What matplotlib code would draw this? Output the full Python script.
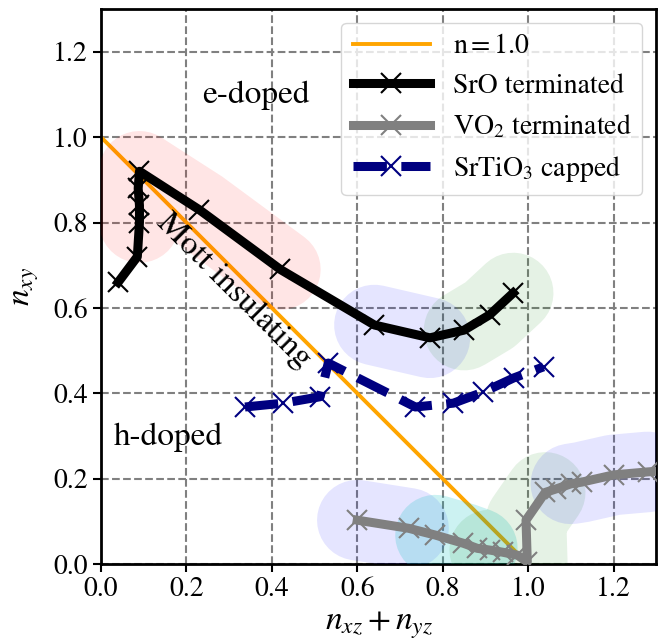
import matplotlib
matplotlib.use('Agg')
from matplotlib import pyplot as plt

plt.rcParams['font.family'] = ['STIXGeneral', 'DejaVu Serif']
plt.rcParams['mathtext.fontset'] = 'stix'

# SrO terminated
sro_x = [0.04, 0.085, 0.09, 0.09, 0.087, 0.09, 0.23, 0.42, 0.64, 0.77, 0.85, 0.91, 0.965]
sro_y = [0.66, 0.72, 0.80, 0.84, 0.88, 0.92, 0.83, 0.69, 0.56, 0.53, 0.548, 0.584, 0.635]

# VO2 terminated
vo2_x = [0.60, 0.72, 0.783, 0.848, 0.881, 0.91, 0.94, 0.975, 0.998, 0.995,
         1.04, 1.065, 1.10, 1.125, 1.20, 1.28, 1.36]
vo2_y = [0.103, 0.084, 0.068, 0.049, 0.037, 0.033, 0.028, 0.021, 0.005, 0.103,
         0.168, 0.176, 0.188, 0.192, 0.209, 0.216, 0.222]

# SrTiO3 capped
sto_x = [0.337, 0.427, 0.513, 0.532, 0.736, 0.825, 0.895, 0.966, 1.036]
sto_y = [0.368, 0.377, 0.392, 0.471, 0.368, 0.377, 0.403, 0.436, 0.462]

# highlighted stretches: (series, first index, last index, colour, alpha)
highlights = [
    ('sro', 2, 7, 'red', 0.1),
    ('sro', 8, 9, 'blue', 0.1),
    ('sro', 10, 12, 'green', 0.1),
    ('vo2', 0, 1, 'blue', 0.1),
    ('vo2', 2, 4, 'c', 0.2),
    ('vo2', 5, 10, 'green', 0.1),
    ('vo2', 12, 15, 'blue', 0.1),
]

series = {'sro': (sro_x, sro_y), 'vo2': (vo2_x, vo2_y)}

fig = plt.figure(figsize=(6.69, 6.44), dpi=100)
ax = fig.add_axes([0.151, 0.124, 0.830, 0.862])

ax.plot([0, 1], [1, 0], color='orange', lw=2.8, label=r'$\rm n=1.0$', zorder=2)

for name, i0, i1, col, a in highlights:
    xs, ys = series[name]
    ax.plot(xs[i0:i1 + 1], ys[i0:i1 + 1], color=col, alpha=a, lw=58,
            solid_capstyle='round', solid_joinstyle='round', zorder=3)

ax.plot(sro_x, sro_y, color='black', lw=6.5, marker='x', ms=15, mew=1.5,
        label='SrO terminated', zorder=4)
ax.plot(vo2_x, vo2_y, color='grey', lw=6.5, marker='x', ms=15, mew=1.5,
        label=r'VO$_2$ terminated', zorder=4)
ax.plot(sto_x, sto_y, color='navy', lw=6.5, ls='--', marker='x', ms=15, mew=1.5,
        label=r'SrTiO$_3$ capped', zorder=4)

ax.text(0.363, 1.097, 'e-doped', fontsize=24, ha='center', va='center')
ax.text(0.157, 0.298, 'h-doped', fontsize=24, ha='center', va='center')
ax.text(0.31, 0.64, 'Mott insulating', fontsize=24, ha='center', va='center',
        rotation=-45, rotation_mode='anchor')

ax.set_xlim(0, 1.3)
ax.set_ylim(0, 1.3)
ax.set_xticks([0.0, 0.2, 0.4, 0.6, 0.8, 1.0, 1.2])
ax.set_yticks([0.0, 0.2, 0.4, 0.6, 0.8, 1.0, 1.2])
ax.grid(True, color='grey', ls='--', lw=1.5)
ax.set_axisbelow(True)
ax.tick_params(labelsize=20, width=1.5, length=6)
for s in ax.spines.values():
    s.set_linewidth(2)

ax.set_xlabel(r'$n_{xz}+n_{yz}$', fontsize=24, labelpad=5)
ax.set_ylabel(r'$n_{xy}$', fontsize=24, labelpad=9)

ax.legend(loc='upper right', fontsize=20, handlelength=2.8)

fig.savefig('out.png', dpi=100)
